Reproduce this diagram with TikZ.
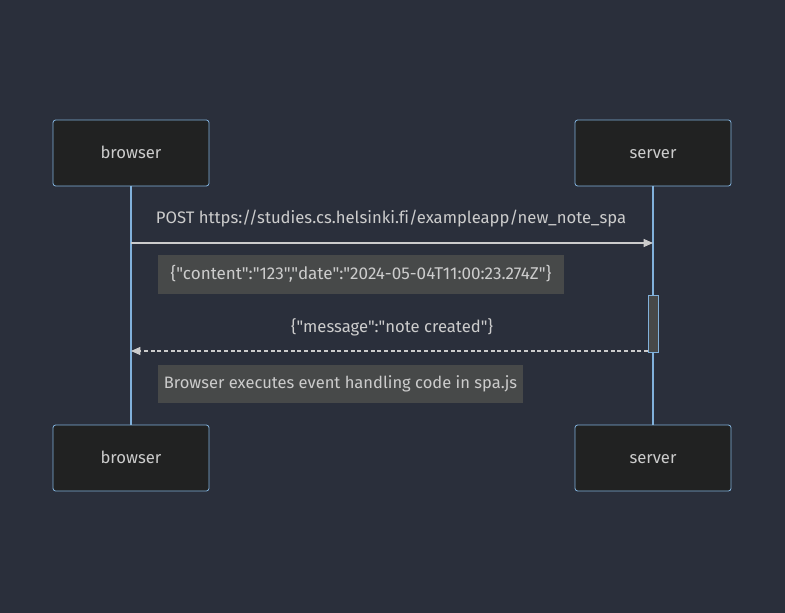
\documentclass[tikz,border=0pt]{standalone}
\usepackage{fontspec}
\setmainfont[Ligatures={NoCommon,TeXOff}]{Fira Sans}
\usetikzlibrary{arrows.meta}
\definecolor{bgcol}{HTML}{2A2F3B}
\definecolor{actfill}{HTML}{212222}
\definecolor{actline}{HTML}{81B1DB}
\definecolor{txtcol}{HTML}{CCCCCC}
\definecolor{notefill}{HTML}{474949}
\tikzset{
  actor/.style={draw=actline,fill=actfill,rounded corners=2pt,line width=0.6pt,
    minimum width=117pt,minimum height=49.5pt,text=txtcol,
    text height=10pt,text depth=2pt,font=\fontsize{12.5}{15}\selectfont},
  note/.style={fill=notefill,text=txtcol,inner xsep=0pt,
    text height=9.5pt,text depth=2.5pt,
    minimum height=29pt,font=\fontsize{12.4}{15}\selectfont},
  msg/.style={text=txtcol,font=\fontsize{12.5}{15}\selectfont},
  life/.style={draw=actline,line width=0.8pt},
  arr/.style={draw=txtcol,line width=0.8pt,-{Triangle[length=7pt,width=6pt]}}
}
\begin{document}
\begin{tikzpicture}[x=0.75pt,y=-0.75pt]
  % background
  \fill[bgcol] (0,0) rectangle (785,613);
  \useasboundingbox (0,0) rectangle (785,613);

  % actors
  \node[actor] (bt) at (131,153) {browser};
  \node[actor] (st) at (653,153) {server};
  \node[actor] (bb) at (131,458) {browser};
  \node[actor] (sb) at (653,458) {server};

  % lifelines
  \draw[life] (bt.south) -- (bb.north);
  \draw[life] (st.south) -- (sb.north);

  % activation
  \node[draw=actline,fill=notefill,line width=0.6pt,minimum width=8pt,minimum height=42.75pt,inner sep=0pt] (act) at (653.5,323.5) {};

  % request
  \coordinate (b1) at (131,243);
  \coordinate (s1) at (653,243);
  \node[msg] (m1) at (391,219) {POST https://studies.cs.helsinki.fi/exampleapp/new\_note\_spa};
  \draw[arr] (b1) -- (s1);
  \node[note,minimum width=304.5pt,font=\fontsize{12.8}{15}\selectfont] (n1) at (361,274.5) {\{"content":"123","date":"2024-05-04T11:00:23.274Z"\}};

  % response
  \coordinate (b2) at (131,351);
  \coordinate (s2) at (648,351);
  \node[msg] (m2) at (392,327) {\{"message":"note created"\}};
  \draw[arr,dashed,dash pattern=on 3pt off 2pt] (s2) -- (b2);
  \node[note,minimum width=273.75pt] (n2) at (340.5,384) {Browser executes event handling code in spa.js};
\end{tikzpicture}
\end{document}
